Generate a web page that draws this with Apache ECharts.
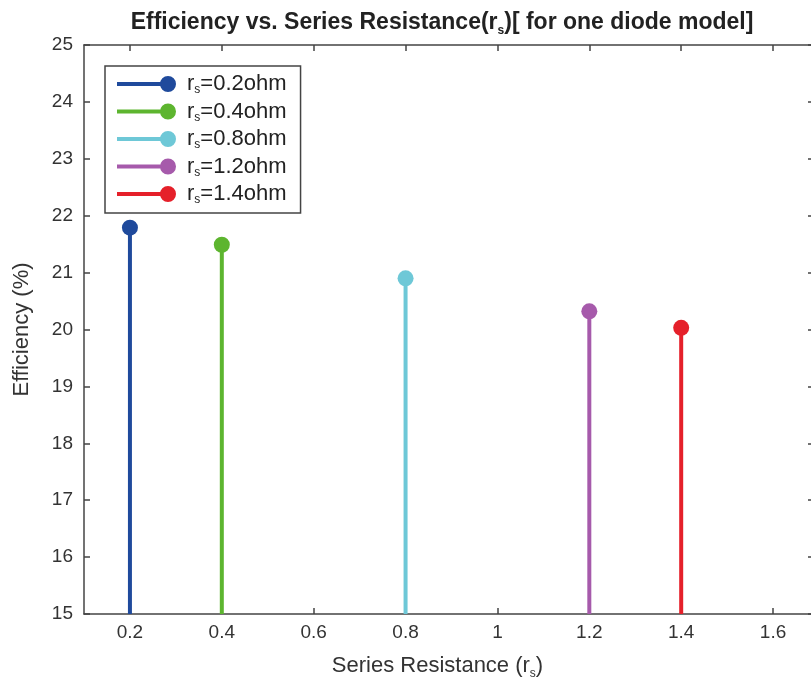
<!DOCTYPE html>
<html>
<head>
<meta charset="utf-8">
<script src="https://cdn.jsdelivr.net/npm/echarts@6/dist/echarts.min.js"></script>
<style>
    html, body { margin: 0; padding: 0; background: #fff; }
    #chart { width: 811px; height: 687px; }
</style>
</head>
<body>
<div id="chart"></div>
<script>
// stem data
let resistances = [0.2, 0.4, 0.8, 1.2, 1.4];
let efficiencies = [21.79, 21.49, 20.9, 20.32, 20.03];
let seriesLabels = ["0.2", "0.4", "0.8", "1.2", "1.4"];
let colors = ["#1f4a9c", "#5db52f", "#6ec8d7", "#a65aab", "#e5202a"];
let xTicks = [0.2, 0.4, 0.6, 0.8, 1, 1.2, 1.4, 1.6];
let yBase = 15;

let font = "Liberation Sans";
let axisColor = "#444";
let labelColor = "#333";

let series = [];
for (let i = 0; i < resistances.length; i++) {
    series.push({
        name: "r_s=" + seriesLabels[i] + "ohm",
        type: "line",
        data: [
            {value: [resistances[i], yBase], symbol: "none"},
            {value: [resistances[i], efficiencies[i]]}
        ],
        symbol: "circle",
        symbolSize: 16,
        showSymbol: true,
        lineStyle: {width: 4, color: colors[i]},
        itemStyle: {color: colors[i]},
        emphasis: {disabled: true},
        z: 3
    });
}

// subscript helper styles
function subStyles(size, sub, color, bold, lh) {
    return {
        a: {fontFamily: font, fontSize: size, lineHeight: lh || size + 6, color: color, fontWeight: bold ? "bold" : "normal"},
        s: {fontFamily: font, fontSize: sub, lineHeight: sub, verticalAlign: "bottom", color: color, fontWeight: bold ? "bold" : "normal"}
    };
}

let option = {
    animation: false,
    title: {
        text: "{a|Efficiency vs. Series Resistance(r}{s|s}{a|)[ for one diode model]}",
        left: 437,
        top: 3,
        textAlign: "center",
        textStyle: {
            fontFamily: font, fontSize: 23, fontWeight: "bold", color: "#222",
            rich: subStyles(23, 12, "#222", true)
        }
    },
    legend: {
        orient: "vertical",
        left: 105,
        top: 66,
        padding: [7, 14, 7, 12],
        itemWidth: 59,
        itemHeight: 16,
        itemGap: 4.5,
        backgroundColor: "#fff",
        borderColor: "#444",
        borderWidth: 1.5,
        icon: "path://M0,6H44V10H0Z M43,8A8,8 0 1,1 59,8A8,8 0 1,1 43,8Z",
        formatter: function (name) {
            let v = name.split("=")[1];
            return "{a|r}{s|s}{a|=" + v + "}";
        },
        textStyle: {padding: [0, 0, 0, 6], rich: subStyles(22, 12, "#222", false, 24)},
        selectedMode: false
    },
    grid: {left: 84, top: 45, right: -8, bottom: 73, outerBoundsMode: "none"},
    xAxis: [
        {
            type: "value",
            min: 0.1,
            max: 1.7,
            name: "{a|Series Resistance (r}{s|s}{a|)}",
            nameLocation: "middle",
            nameGap: 38,
            nameTextStyle: {
                fontFamily: font, fontSize: 22, color: labelColor,
                padding: [0, 28, 0, 0],
                rich: subStyles(22, 12, labelColor, false)
            },
            axisLine: {onZero: false, lineStyle: {color: axisColor, width: 1.5}},
            axisTick: {inside: true, length: 6, customValues: xTicks, lineStyle: {color: axisColor, width: 1.5}},
            axisLabel: {
                customValues: xTicks,
                fontFamily: font, fontSize: 19, color: labelColor, margin: 9,
                formatter: function (v) { return String(Math.round(v * 10) / 10); }
            },
            splitLine: {show: false}
        },
        {
            type: "value",
            position: "top",
            min: 0.1,
            max: 1.7,
            axisLine: {onZero: false, lineStyle: {color: axisColor, width: 1.5}},
            axisTick: {inside: true, length: 6, customValues: xTicks, lineStyle: {color: axisColor, width: 1.5}},
            axisLabel: {show: false},
            splitLine: {show: false}
        }
    ],
    yAxis: [
        {
            type: "value",
            min: 15,
            max: 25,
            interval: 1,
            name: "Efficiency (%)",
            nameLocation: "middle",
            nameGap: 51,
            nameTextStyle: {fontFamily: font, fontSize: 22, color: labelColor},
            axisLine: {onZero: false, lineStyle: {color: axisColor, width: 1.5}},
            axisTick: {inside: true, length: 6, lineStyle: {color: axisColor, width: 1.5}},
            axisLabel: {fontFamily: font, fontSize: 19, color: labelColor, margin: 11},
            splitLine: {show: false}
        },
        {
            type: "value",
            position: "right",
            min: 15,
            max: 25,
            interval: 1,
            axisLine: {onZero: false, lineStyle: {color: axisColor, width: 1.5}},
            axisTick: {inside: true, length: 11, lineStyle: {color: axisColor, width: 1.5}},
            axisLabel: {show: false},
            splitLine: {show: false}
        }
    ],
    series: series
};

let chart = echarts.init(document.getElementById("chart"));
chart.setOption(option);
</script>
</body>
</html>
